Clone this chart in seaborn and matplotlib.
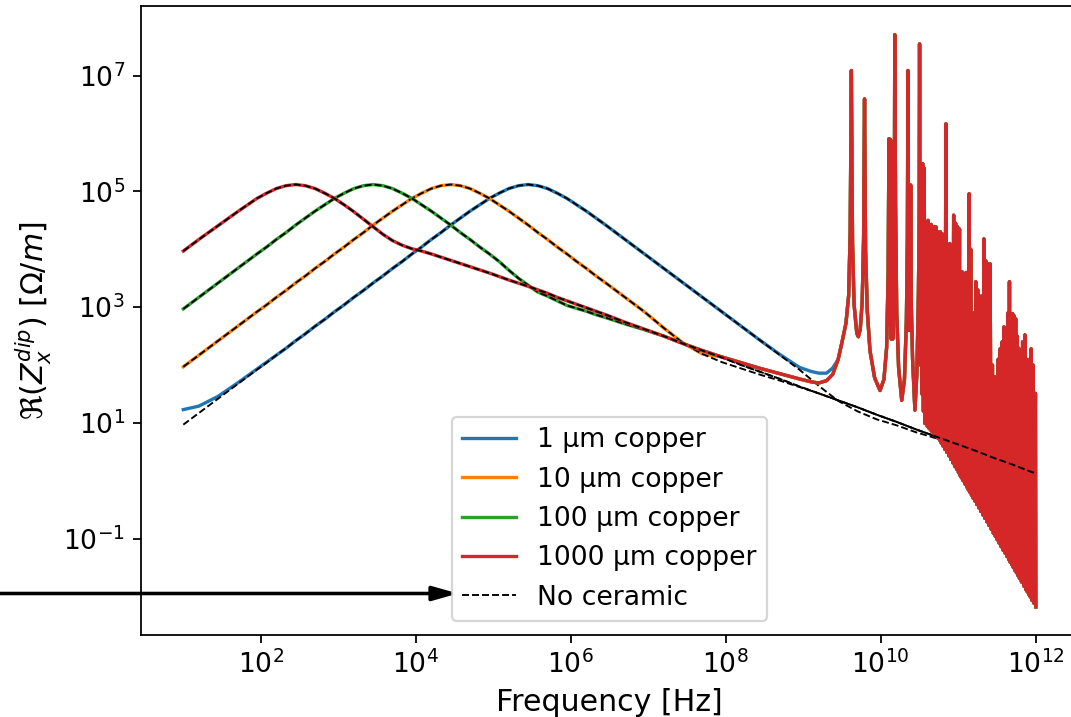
import numpy as np
import matplotlib
matplotlib.use("Agg")
import matplotlib.pyplot as plt
from matplotlib.ticker import NullLocator
import seaborn as sns

# ---------------------------------------------------------------------------
# Data.  All numbers are log10 of the plotted
# quantity (frequency in Hz, Re(Z_x^dip) in Ohm/m).
# ---------------------------------------------------------------------------
log_freq = [1.0, 1.2, 1.45, 1.7,
            1.95, 2.075, 2.2, 2.325, 2.45, 2.575, 2.7, 2.825, 2.95, 3.075,
            3.2, 3.325, 3.45, 3.575, 3.7, 3.825, 3.95, 4.075, 4.2, 4.325,
            4.45, 4.575, 4.7, 4.825, 4.95, 5.075, 5.2, 5.325, 5.45, 5.575,
            5.7, 5.825, 5.95, 6.075, 6.2, 6.325, 6.45,
            6.7, 6.95, 7.2, 7.45, 7.7, 7.95, 8.2, 8.45, 8.7, 8.95,
            9.2, 9.45, 9.7, 9.95, 10.2, 10.45, 10.7, 10.95, 11.2, 11.45,
            11.7, 11.95, 12.0]

# "No ceramic" curves (dashed), one per copper thickness
nc_1um = [0.97, 1.17, 1.42, 1.67,
          1.92, 2.04, 2.17, 2.29, 2.42, 2.54, 2.67, 2.79, 2.92, 3.04,
          3.17, 3.29, 3.42, 3.54, 3.67, 3.79, 3.92, 4.04, 4.17, 4.29,
          4.42, 4.54, 4.66, 4.77, 4.88, 4.97, 5.05, 5.10, 5.12, 5.10,
          5.05, 4.97, 4.88, 4.77, 4.66, 4.54, 4.42,
          4.17, 3.92, 3.67, 3.42, 3.17, 2.92, 2.67, 2.42, 2.17, 1.92,
          1.64, 1.38, 1.20, 1.06, 0.96, 0.84, 0.74, 0.64, 0.53, 0.40,
          0.28, 0.15, 0.13]
nc_10um = [1.97, 2.17, 2.42, 2.67,
           2.92, 3.04, 3.17, 3.29, 3.42, 3.54, 3.67, 3.79, 3.92, 4.04,
           4.17, 4.29, 4.42, 4.54, 4.66, 4.77, 4.88, 4.97, 5.05, 5.10,
           5.12, 5.10, 5.05, 4.97, 4.88, 4.77, 4.66, 4.54, 4.42, 4.29,
           4.17, 4.04, 3.92, 3.79, 3.67, 3.54, 3.42,
           3.17, 2.92, 2.64, 2.38, 2.19, 2.05, 1.94, 1.83, 1.73, 1.62,
           1.51, 1.39, 1.27, 1.14, 1.02, 0.89, 0.77, 0.65, 0.53, 0.40,
           0.28, 0.15, 0.13]
nc_100um = [2.97, 3.17, 3.42, 3.67,
            3.92, 4.04, 4.17, 4.29, 4.42, 4.54, 4.66, 4.77, 4.88, 4.97,
            5.05, 5.10, 5.12, 5.10, 5.05, 4.97, 4.88, 4.77, 4.66, 4.54,
            4.42, 4.29, 4.17, 4.04, 3.92, 3.79, 3.64, 3.50, 3.38, 3.26,
            3.19, 3.11, 3.03, 2.98, 2.93, 2.87, 2.82,
            2.71, 2.61, 2.50, 2.37, 2.25, 2.13, 2.00, 1.88, 1.76, 1.63,
            1.51, 1.39, 1.27, 1.14, 1.02, 0.89, 0.77, 0.65, 0.53, 0.40,
            0.28, 0.15, 0.13]
nc_1000um = [3.97, 4.17, 4.41, 4.65,
             4.88, 4.97, 5.05, 5.10, 5.12, 5.10, 5.05, 4.97, 4.88, 4.77,
             4.65, 4.52, 4.39, 4.26, 4.15, 4.07, 4.01, 3.97, 3.92, 3.865,
             3.81, 3.755, 3.70, 3.645, 3.59, 3.53, 3.47, 3.415, 3.36, 3.30,
             3.24, 3.17, 3.11, 3.05, 2.99, 2.93, 2.87,
             2.74, 2.62, 2.50, 2.37, 2.25, 2.13, 2.00, 1.88, 1.76, 1.63,
             1.51, 1.39, 1.27, 1.14, 1.02, 0.89, 0.77, 0.65, 0.53, 0.40,
             0.28, 0.15, 0.13]

# With ceramic (solid), on the first 51 grid points (up to 10^8.95 Hz)
cer_1um = [1.23, 1.29, 1.46, 1.69,
           1.93, 2.05, 2.17, 2.29, 2.42, 2.54, 2.67, 2.79, 2.92, 3.04,
           3.17, 3.29, 3.42, 3.54, 3.67, 3.79, 3.92, 4.04, 4.17, 4.29,
           4.42, 4.54, 4.66, 4.77, 4.88, 4.97, 5.05, 5.10, 5.12, 5.10,
           5.05, 4.97, 4.88, 4.77, 4.66, 4.54, 4.42,
           4.17, 3.92, 3.67, 3.42, 3.17, 2.92, 2.67, 2.42, 2.18, 1.96]
cer_10um = [1.97, 2.17, 2.42, 2.67,
            2.92, 3.04, 3.17, 3.29, 3.42, 3.54, 3.67, 3.79, 3.92, 4.04,
            4.17, 4.29, 4.42, 4.54, 4.66, 4.77, 4.88, 4.97, 5.05, 5.10,
            5.12, 5.10, 5.05, 4.97, 4.88, 4.77, 4.66, 4.54, 4.42, 4.29,
            4.17, 4.04, 3.92, 3.79, 3.67, 3.54, 3.42,
            3.17, 2.92, 2.64, 2.38, 2.19, 2.14, 2.04, 1.94, 1.85, 1.76]
cer_100um = [2.97, 3.17, 3.42, 3.67,
             3.92, 4.04, 4.17, 4.29, 4.42, 4.54, 4.66, 4.77, 4.88, 4.97,
             5.05, 5.10, 5.12, 5.10, 5.05, 4.97, 4.88, 4.77, 4.66, 4.54,
             4.42, 4.29, 4.17, 4.04, 3.92, 3.79, 3.64, 3.50, 3.38, 3.26,
             3.19, 3.11, 3.03, 2.98, 2.93, 2.87, 2.82,
             2.71, 2.61, 2.50, 2.37, 2.25, 2.14, 2.04, 1.94, 1.85, 1.76]
cer_1000um = [3.97, 4.17, 4.41, 4.65,
              4.88, 4.97, 5.05, 5.10, 5.12, 5.10, 5.05, 4.97, 4.88, 4.77,
              4.65, 4.52, 4.39, 4.26, 4.15, 4.07, 4.01, 3.97, 3.92, 3.865,
              3.81, 3.755, 3.70, 3.645, 3.59, 3.53, 3.47, 3.415, 3.36, 3.30,
              3.24, 3.17, 3.11, 3.05, 2.99, 2.93, 2.87,
              2.74, 2.62, 2.50, 2.37, 2.25, 2.14, 2.04, 1.94, 1.85, 1.76]

# short approach to the first resonance
tail_freq = [9.1, 9.2, 9.3, 9.38]
tail_1um = [1.89, 1.86, 1.86, 1.95]
tail_thick = [1.71, 1.69, 1.73, 1.84]

# resonance region (identical for all thicknesses with ceramic)
res_freq = [9.45, 9.50, 9.55, 9.585, 9.605, 9.62, 9.635, 9.655, 9.69, 9.71,
            9.735, 9.76, 9.778, 9.79, 9.803, 9.825, 9.86, 9.92, 9.99, 10.04,
            10.075, 10.095, 10.105, 10.115, 10.125, 10.135, 10.145, 10.155, 10.165, 10.172,
            10.18, 10.19, 10.205, 10.23, 10.27, 10.305, 10.33, 10.343, 10.35, 10.36,
            10.37, 10.378, 10.386, 10.394, 10.41, 10.44, 10.465, 10.485, 10.495, 10.50,
            10.51, 10.52, 10.53, 10.54, 10.55, 10.56, 10.57,
            10.590, 10.600, 10.610, 10.620, 10.630, 10.640, 10.650, 10.660, 10.670, 10.680,
            10.690, 10.700, 10.710, 10.720, 10.730, 10.740, 10.750, 10.760, 10.770, 10.780,
            10.790, 10.8025, 10.815, 10.8275, 10.840, 10.8525, 10.865, 10.8775, 10.890, 10.9025,
            10.915, 10.9275, 10.940, 10.9525, 10.965, 10.9775, 10.990, 11.0025, 11.015, 11.0225,
            11.030, 11.040, 11.050, 11.0625, 11.075, 11.0875, 11.100, 11.110, 11.120, 11.130,
            11.140, 11.150, 11.160, 11.170, 11.180, 11.190, 11.200, 11.2125, 11.225, 11.2375,
            11.250, 11.265, 11.280, 11.290, 11.300, 11.315, 11.330, 11.3425, 11.355, 11.3675,
            11.380, 11.395, 11.410, 11.425, 11.440, 11.4525, 11.465, 11.4775, 11.490, 11.5025,
            11.515, 11.5275, 11.540, 11.5525, 11.565, 11.5775, 11.590, 11.6025, 11.615, 11.6275,
            11.640, 11.650, 11.660, 11.670, 11.680, 11.690, 11.700, 11.710, 11.720, 11.730,
            11.740, 11.750, 11.760, 11.770, 11.780, 11.790, 11.800, 11.815, 11.830, 11.845,
            11.860, 11.870, 11.880, 11.890, 11.900, 11.910, 11.920, 11.930, 11.940, 11.9525,
            11.965, 11.9775, 11.995, 12.0]
res_vals = [2.10, 2.40, 2.72, 3.20, 4.30, 7.09, 4.10, 3.05, 2.55, 2.49,
            2.62, 3.10, 4.20, 6.60, 4.00, 2.95, 2.25, 1.78, 1.56, 1.75,
            2.30, 3.60, 5.91, 2.70, 5.90, 2.45, 5.85, 2.45, 5.85, 2.80,
            7.71, 4.80, 2.90, 1.95, 1.39, 1.75, 2.75, 4.20, 7.09, 2.60,
            5.11, 2.60, 5.11, 3.00, 2.10, 1.22, 1.85, 3.20, 4.50, 7.55,
            2.00, 5.48, 1.50, 5.48, 1.20, 5.40, 0.99,
            4.45, 0.94, 4.50, 0.91, 4.40, 0.88, 4.43, 0.85, 4.10, 0.82,
            4.39, 0.79, 4.39, 0.76, 3.41, 0.73, 4.30, 0.70, 4.30, 0.65,
            4.27, 0.60, 2.90, 0.54, 6.17, 0.49, 4.07, 0.43, 4.10, 0.37,
            4.00, 0.31, 4.59, 0.25, 4.45, 0.20, 4.39, 0.14, 4.35, 0.09,
            2.95, 0.05, 3.61, 0.00, 3.55, -0.06, 3.60, -0.11, 3.50, -0.16,
            4.96, -0.20, 4.00, -0.25, 2.66, -0.30, 2.90, -0.35, 3.44, -0.41,
            3.30, -0.47, 3.19, -0.53, 3.19, -0.59, 4.18, -0.65, 3.80, -0.71,
            3.75, -0.77, 3.75, -0.84, 2.00, -0.91, 1.80, -0.96, 1.74, -1.02,
            2.10, -1.08, 2.28, -1.14, 2.40, -1.20, 2.66, -1.25, 1.60, -1.31,
            2.90, -1.36, 3.44, -1.41, 2.60, -1.45, 2.89, -1.50, 2.85, -1.55,
            2.80, -1.59, 2.50, -1.64, 2.29, -1.69, 2.20, -1.75, 2.40, -1.82,
            2.52, -1.88, 2.10, -1.92, 1.85, -1.97, 2.10, -2.01, 2.28, -2.07,
            2.00, -2.12, 1.51, -2.18]

labels = ["1 µm copper", "10 µm copper", "100 µm copper", "1000 µm copper"]
colors = ["#1f77b4", "#ff7f0e", "#2ca02c", "#d62728"]

for arr in (nc_1um, nc_10um, nc_100um, nc_1000um):
    assert len(arr) == len(log_freq), len(arr)
for arr in (cer_1um, cer_10um, cer_100um, cer_1000um):
    assert len(arr) == 51, len(arr)
assert len(res_freq) == len(res_vals), (len(res_freq), len(res_vals))

# ---------------------------------------------------------------------------
DPI = 160
fig = plt.figure(figsize=(1071 / DPI, 717 / DPI), dpi=DPI)
ax = fig.add_axes([0.1312, 0.1148, 0.8756, 0.8764])
ax.set_xscale("log")
ax.set_yscale("log")

series = [
    (cer_1um, tail_1um, nc_1um),
    (cer_10um, tail_thick, nc_10um),
    (cer_100um, tail_thick, nc_100um),
    (cer_1000um, tail_thick, nc_1000um),
]

grid_c = log_freq[:51]
for i, (cer, tail, nc) in enumerate(series):
    xs = np.array(grid_c + tail_freq + res_freq)
    ys = np.array(cer + tail + res_vals)
    sns.lineplot(x=10 ** xs, y=10 ** ys, color=colors[i], lw=1.5,
                 label=labels[i], estimator=None, sort=False, ax=ax)
    sns.lineplot(x=10 ** np.array(log_freq), y=10 ** np.array(nc),
                 color="black", lw=0.85, linestyle="--",
                 label="No ceramic" if i == 3 else None,
                 estimator=None, sort=False, ax=ax)

ax.set_xlim(10 ** 0.448, 10 ** 12.548)
ax.set_ylim(10 ** -2.66, 10 ** 8.20)
ax.set_xticks([1e2, 1e4, 1e6, 1e8, 1e10, 1e12])
ax.set_yticks([1e-1, 1e1, 1e3, 1e5, 1e7])
ax.xaxis.set_minor_locator(NullLocator())
ax.yaxis.set_minor_locator(NullLocator())
ax.tick_params(labelsize=12)

ax.set_xlabel("Frequency [Hz]", fontsize=13.5)
ax.set_ylabel(r"$\Re(Z_x^{dip})$ [$\Omega/m$]", fontsize=13.5)

ax.legend(loc="lower center", fontsize=12)

# arrow pointing at the "No ceramic" legend entry
ax.annotate("", xy=(458, 717 - 593.5), xycoords="figure pixels",
            xytext=(-10, 717 - 593.5), textcoords="figure pixels",
            arrowprops=dict(arrowstyle="-|>,head_length=0.6,head_width=0.17",
                            lw=1.6, color="black", mutation_scale=16,
                            shrinkA=0, shrinkB=0),
            annotation_clip=False)

fig.savefig("out.png", dpi=DPI)
